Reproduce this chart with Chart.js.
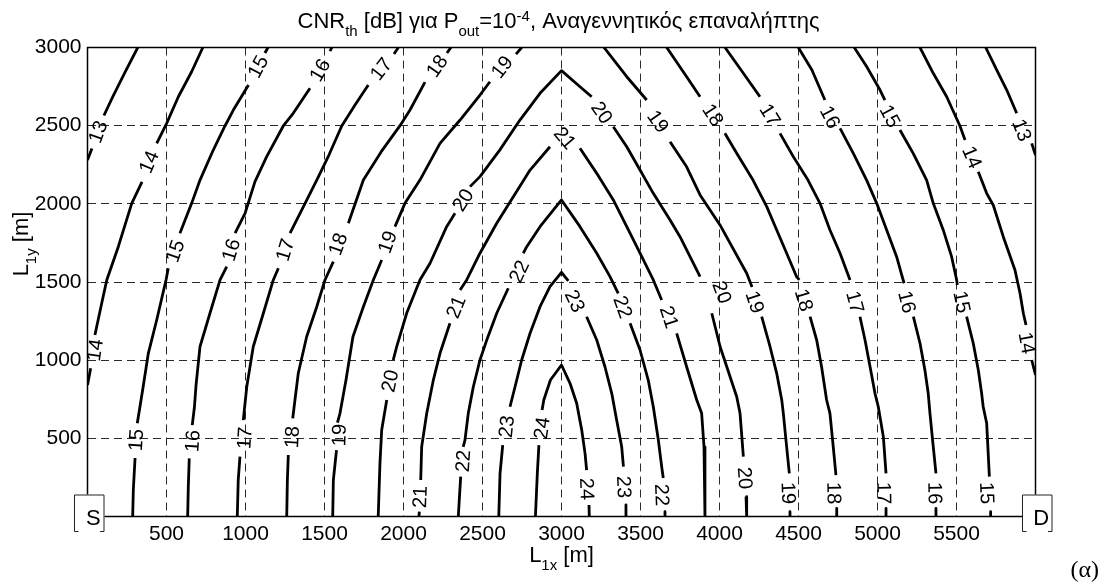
<!DOCTYPE html>
<html>
<head>
<meta charset="utf-8">
<script src="https://cdn.jsdelivr.net/npm/chart.js@4.4.1/dist/chart.umd.min.js"></script>
<style>
  html, body { margin: 0; padding: 0; background: #fff; }
  #wrap { width: 1106px; height: 587px; }
</style>
</head>
<body>
<div id="wrap"><canvas id="c" width="1106" height="587"></canvas></div>
<script>
// Axis ranges and tick labels (metres)
const xRange = [0, 6000];
const yRange = [0, 3000];
const xTickLabels = [500, 1000, 1500, 2000, 2500, 3000, 3500, 4000, 4500, 5000, 5500];
const yTickLabels = [500, 1000, 1500, 2000, 2500, 3000];

// Iso-CNR contour lines, [L1x, L1y] in metres; null marks a break where a level label sits
const iso13L = [[318,3000],[237,2841],[161,2687],[104,2565],null,[28,2354],[0,2280]];
const iso14L = [[730,3000],[659,2845],[575,2685],[501,2515],[438,2387],null,[345,2140],[280,2003],[195,1726],[122,1513],[90,1364],[58,1214],[47,1161],null,[20,948],[0,841]];
const iso15L = [[1142,3000],[1123,2965],null,[1019,2760],[923,2600],[870,2498],[796,2344],[712,2152],[659,2003],[585,1812],null,[511,1588],[497,1513],[438,1257],[385,1044],[354,841],[332,702],[315,596],null,[301,374],[290,170],[286,0]];
const iso16L = [[1546,3000],[1535,2977],null,[1408,2739],[1302,2579],[1239,2498],[1134,2302],[1060,2142],[997,1939],[934,1812],null,[881,1598],[839,1513],[775,1300],[712,1086],[687,841],[677,702],[663,585],null,[644,372],[638,191],[634,0]];
const iso17L = [[1967,3000],[1940,2958],null,[1777,2760],[1693,2632],[1609,2498],[1528,2312],[1451,2152],[1377,2003],[1282,1812],null,[1208,1588],[1176,1513],[1113,1300],[1049,1086],[1008,830],[986,617],null,[965,383],[954,233],[948,0]];
const iso18L = [[2300,3000],[2275,2965],null,[2136,2779],[2041,2600],[1978,2500],[1858,2332],[1746,2152],[1651,1876],null,[1556,1630],[1503,1513],[1451,1342],[1387,1150],[1334,916],[1313,745],[1299,628],null,[1271,393],[1265,233],[1261,0]];
const iso19L = [[2748,3000],[2712,2958],null,[2547,2781],[2484,2696],[2358,2536],[2231,2387],[2104,2152],[2009,2003],[1946,1854],null,[1862,1641],[1809,1513],[1746,1342],[1680,1150],[1636,873],[1598,660],[1582,600],null,[1576,425],[1556,233],[1552,0]];
const iso20 = [[1840,0],[1851,340],[1862,553],[1894,745],null,[1935,1001],[1957,1086],[2020,1300],[2104,1513],[2168,1620],[2273,1854],[2326,1939],null,[2421,2110],[2484,2174],[2610,2345],[2737,2536],[2864,2707],[3000,2852],[3117,2749],[3191,2685],null,[3328,2493],[3413,2365],[3497,2216],[3581,2067],[3687,1897],[3750,1790],[3877,1534],null,[3951,1300],[4004,1086],[4109,766],[4130,660],[4151,383],null,[4168,127],[4172,0]];
const iso21 = [[2098,0],[2100,31],null,[2109,233],[2115,446],[2147,660],[2189,873],[2231,1044],[2294,1236],null,[2358,1449],[2400,1513],[2484,1684],[2590,1876],[2695,2046],[2801,2216],[2927,2365],null,[3117,2355],[3223,2195],[3328,2025],[3413,1854],[3497,1684],[3581,1513],[3634,1385],null,[3729,1172],[3792,958],[3856,745],[3887,660],[3902,446],[3908,233],[3908,0]];
const iso22 = [[2347,0],[2353,106],[2362,255],null,[2378,446],[2389,489],[2410,660],[2442,830],[2484,1001],[2527,1129],[2590,1300],[2663,1460],null,[2758,1684],[2780,1726],[2864,1854],[3000,2025],[3117,1854],[3223,1684],[3307,1534],[3359,1428],null,[3434,1236],[3497,1065],[3549,873],[3581,702],[3613,489],[3634,319],[3644,246],null,[3655,31],[3655,0]];
const iso23 = [[2603,0],[2611,276],[2628,457],null,[2674,702],[2706,830],[2748,1001],[2801,1172],[2864,1342],[2927,1470],[3000,1562],[3043,1507],null,[3159,1278],[3223,1129],[3275,958],[3318,788],[3349,617],[3381,446],[3392,319],null,[3408,74],[3408,0]];
const iso24 = [[2835,0],[2847,276],[2857,457],null,[2877,681],[2888,745],[2930,873],[3000,969],[3054,852],[3096,724],[3128,553],[3149,404],[3159,297],null,[3174,74],[3176,0]];
const iso19R = [[3269,3000],[3413,2813],[3539,2664],null,[3687,2397],[3792,2237],[3877,2057],[4003,1865],[4172,1556],[4206,1468],null,[4267,1278],[4320,1086],[4362,916],[4394,745],[4404,660],[4425,446],[4442,276],null,[4446,31],[4446,0]];
const iso18R = [[3666,3000],[3792,2813],[3877,2685],null,[4034,2451],[4109,2323],[4212,2152],[4299,1982],[4362,1833],[4425,1684],[4488,1534],[4505,1513],null,[4573,1278],[4615,1129],[4646,958],[4678,745],[4699,660],[4720,446],[4737,265],null,[4742,52],[4742,0]];
const iso17R = [[4035,3000],[4151,2835],[4256,2685],null,[4383,2451],[4467,2302],[4560,2152],[4636,2003],[4699,1833],[4763,1684],[4826,1513],null,[4889,1278],[4921,1129],[4953,958],[4984,788],[5005,702],[5037,510],[5054,276],null,[5054,52],[5054,0]];
const iso16R = [[4499,3000],[4585,2856],[4667,2664],null,[4763,2483],[4847,2323],[4931,2152],[4995,2003],[5058,1833],[5121,1662],[5168,1492],null,[5227,1278],[5269,1108],[5300,937],[5321,788],[5332,660],[5353,446],[5370,276],null,[5370,52],[5370,0]];
const iso15R = [[4853,3000],[4932,2877],[5016,2728],[5047,2664],null,[5142,2472],[5226,2323],[5311,2152],[5353,2003],[5416,1833],[5469,1662],[5501,1513],[5505,1481],null,[5564,1278],[5606,1108],[5638,937],[5659,788],[5669,702],[5691,596],[5708,255],null,[5716,31],[5716,0]];
const iso14R = [[5269,3000],[5353,2835],[5438,2685],[5522,2498],[5554,2408],null,[5638,2206],[5691,2067],[5733,1991],[5796,1790],[5870,1577],[5902,1428],[5923,1300],[5940,1225],null,[5976,1001],[6000,905]];
const iso13R = [[5685,3000],[5755,2856],[5818,2728],[5881,2579],null,[5976,2387],[6000,2312]];

const contourLines = [iso13L, iso14L, iso15L, iso16L, iso17L, iso18L, iso19L, iso20, iso21, iso22, iso23, iso24,
                      iso19R, iso18R, iso17R, iso16R, iso15R, iso14R, iso13R];

// In-line level labels: [CNR level in dB, L1x, L1y, text angle in degrees]
const contourLabels = [
  [13, 66, 2461, -70], [14, 389, 2268, -67], [14, 47, 1065, -82],
  [15, 1079, 2878, -62], [15, 554, 1698, -71], [15, 307, 489, -86],
  [16, 1471, 2856, -60], [16, 908, 1705, -73], [16, 665, 483, -86],
  [17, 1858, 2863, -52], [17, 1250, 1705, -73], [17, 994, 502, -86],
  [18, 2212, 2882, -55], [18, 1585, 1743, -70], [18, 1294, 508, -87],
  [19, 2623, 2875, -52], [19, 1898, 1756, -70], [19, 1592, 521, -88],
  [20, 2376, 2025, -58], [20, 1914, 867, -78], [20, 3256, 2584, 55], [20, 4016, 1435, 70], [20, 4161, 246, 86],
  [21, 2104, 125, -88], [21, 2332, 1340, -68], [21, 3022, 2421, 50], [21, 3681, 1276, 72],
  [22, 2376, 355, -86], [22, 2731, 1567, -65], [22, 3389, 1340, 70], [22, 3636, 138, 88],
  [23, 2652, 576, -84], [23, 3085, 1378, 65], [23, 3395, 189, 88],
  [24, 2876, 566, -82], [24, 3161, 176, 88],
  [19, 3611, 2527, 55], [19, 4224, 1372, 72], [19, 4436, 150, 88],
  [18, 3959, 2568, 57], [18, 4535, 1385, 73], [18, 4725, 150, 89],
  [17, 4320, 2568, 58], [17, 4858, 1372, 75], [17, 5041, 150, 89],
  [16, 4700, 2555, 62], [16, 5187, 1372, 76], [16, 5364, 150, 89],
  [15, 5079, 2561, 62], [15, 5534, 1372, 78], [15, 5693, 150, 88],
  [14, 5598, 2299, 67], [14, 5946, 1110, 80], [13, 5914, 2472, 68]
];

// Source and destination terminals
const terminals = [['S', 0, 0], ['D', 6000, 0]];

const SANS = '"Liberation Sans", Arial, Helvetica, sans-serif';
const SERIF = '"Liberation Serif", "Times New Roman", serif';

// Split each contour at its label breaks into separate line segments
const datasets = [];
contourLines.forEach(line => {
  let seg = [];
  line.forEach(p => {
    if (p === null) {
      if (seg.length) datasets.push(seg);
      seg = [];
    } else {
      seg.push({ x: p[0], y: p[1] });
    }
  });
  if (seg.length) datasets.push(seg);
});

function drawRich(ctx, parts, x, y, align) {
  let total = 0;
  parts.forEach(([t, size]) => { ctx.font = size + 'px ' + SANS; total += ctx.measureText(t).width; });
  let cx = align === 'center' ? x - total / 2 : x;
  ctx.textAlign = 'left';
  ctx.textBaseline = 'alphabetic';
  parts.forEach(([t, size, shift]) => {
    ctx.font = size + 'px ' + SANS;
    ctx.fillText(t, cx, y + shift);
    cx += ctx.measureText(t).width;
  });
}

const decorations = {
  id: 'decorations',
  afterDatasetsDraw(chart) {
    const { ctx, chartArea: a, scales: { x, y } } = chart;
    ctx.save();
    // axes frame
    ctx.strokeStyle = '#000';
    ctx.lineWidth = 1.5;
    ctx.strokeRect(a.left, a.top, a.right - a.left, a.bottom - a.top);
    // contour level labels
    ctx.fillStyle = '#000';
    ctx.font = '20px ' + SANS;
    ctx.textAlign = 'center';
    ctx.textBaseline = 'middle';
    contourLabels.forEach(([lvl, lx, ly, ang]) => {
      ctx.save();
      ctx.translate(x.getPixelForValue(lx), y.getPixelForValue(ly));
      ctx.rotate(ang * Math.PI / 180);
      ctx.fillText(String(lvl), 0, 1);
      ctx.restore();
    });
    ctx.restore();
  },
  afterDraw(chart) {
    const { ctx, chartArea: a, scales: { x, y } } = chart;
    ctx.save();
    ctx.fillStyle = '#000';
    // title
    drawRich(ctx, [['CNR', 22, 0], ['th', 15, 8], [' [dB] για P', 22, 0], ['out', 15, 8],
                   ['=10', 22, 0], ['-4', 15, -7], [', Αναγεννητικός επαναλήπτης', 22, 0]],
             558.5, 28, 'center');
    // x axis title
    drawRich(ctx, [['L', 22, 0], ['1x', 15, 8], [' [m]', 22, 0]], (a.left + a.right) / 2, 561.5, 'center');
    // y axis title
    ctx.save();
    ctx.translate(28, 244);
    ctx.rotate(-Math.PI / 2);
    drawRich(ctx, [['L', 22, 0], ['1y', 15, 8], [' [m]', 22, 0]], 0, 0, 'center');
    ctx.restore();
    // terminal boxes
    terminals.forEach(([name, tx, ty]) => {
      const px = x.getPixelForValue(tx), py = y.getPixelForValue(ty);
      const l = px - 13.5, r = px + 17, t = py - 22, b = py + 14.5;
      ctx.fillStyle = '#fff';
      ctx.fillRect(l, t, r - l, b - t);
      ctx.strokeStyle = '#222';
      ctx.lineWidth = 1;
      ctx.beginPath();
      ctx.moveTo(l + 4.5, b + 0.5); ctx.lineTo(l + 0.5, b + 0.5); ctx.lineTo(l + 0.5, t + 0.5);
      ctx.lineTo(r - 0.5, t + 0.5); ctx.lineTo(r - 0.5, b + 0.5); ctx.lineTo(r - 4.5, b + 0.5);
      ctx.stroke();
      ctx.fillStyle = '#000';
      ctx.font = '22px ' + SANS;
      ctx.textAlign = 'center';
      ctx.textBaseline = 'alphabetic';
      ctx.fillText(name, (l + r) / 2 + 4, b - 6);
    });
    // panel tag
    ctx.font = '24px ' + SERIF;
    ctx.textAlign = 'right';
    ctx.textBaseline = 'alphabetic';
    ctx.fillStyle = '#000';
    ctx.fillText('(α)', 1099, 577);
    ctx.restore();
  }
};

const edgeTransparent = (lo, hi) => (c) =>
  (c.tick && (c.tick.value === lo || c.tick.value === hi)) ? 'rgba(0,0,0,0)' : '#2a2a2a';

new Chart(document.getElementById('c'), {
  type: 'scatter',
  data: {
    datasets: datasets.map(seg => ({
      data: seg,
      showLine: true,
      borderColor: '#000',
      borderWidth: 2.8,
      pointRadius: 0,
      pointHoverRadius: 0,
      tension: 0,
      borderJoinStyle: 'round',
      borderCapStyle: 'butt',
      spanGaps: false
    }))
  },
  options: {
    responsive: false,
    animation: false,
    devicePixelRatio: 1,
    events: [],
    layout: { padding: { top: 47.5, right: 70.5, left: 0, bottom: 0 } },
    plugins: { legend: { display: false }, tooltip: { enabled: false }, title: { display: false } },
    scales: {
      x: {
        type: 'linear', min: xRange[0], max: xRange[1],
        afterFit: (s) => { s.height = 70.5; },
        ticks: {
          stepSize: 500, autoSkip: false, maxRotation: 0, padding: 5,
          color: '#000', font: { family: SANS, size: 21 },
          callback: (v) => xTickLabels.includes(v) ? String(v) : ''
        },
        grid: { color: edgeTransparent(xRange[0], xRange[1]), lineWidth: 1, drawTicks: false },
        border: { display: false, dash: [8, 5] }
      },
      y: {
        type: 'linear', min: yRange[0], max: yRange[1],
        afterFit: (s) => { s.width = 87.5; },
        ticks: {
          stepSize: 500, autoSkip: false, padding: 6,
          color: '#000', font: { family: SANS, size: 21 },
          callback: (v) => yTickLabels.includes(v) ? String(v) : ''
        },
        grid: { color: edgeTransparent(yRange[0], yRange[1]), lineWidth: 1, drawTicks: false },
        border: { display: false, dash: [8, 5] }
      }
    }
  },
  plugins: [decorations]
});
</script>
</body>
</html>
